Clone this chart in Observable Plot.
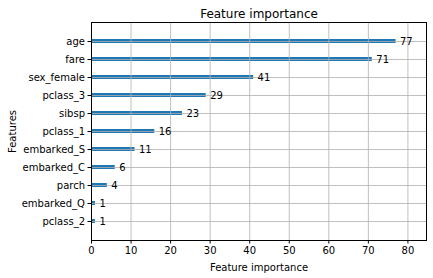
<!DOCTYPE html>
<html>
<head>
<meta charset="utf-8">
<script src="https://cdn.jsdelivr.net/npm/d3@7"></script>
<script src="https://cdn.jsdelivr.net/npm/@observablehq/plot@0.6"></script>
<style>
  html, body { margin: 0; padding: 0; background: white; }
</style>
</head>
<body>
<div id="chart"></div>
<script>
const features = ["age", "fare", "sex_female", "pclass_3", "sibsp", "pclass_1", "embarked_S", "embarked_C", "parch", "embarked_Q", "pclass_2"];
const importance = [77, 71, 41, 29, 23, 16, 11, 6, 4, 1, 1];
const xTicks = [0, 10, 20, 30, 40, 50, 60, 70, 80];
const titleText = "Feature importance";
const xLabel = "Feature importance";
const yLabel = "Features";

const data = features.map((f, i) => ({feature: f, value: importance[i]}));

const chart = Plot.plot({
  width: 433,
  height: 278,
  marginLeft: 91,
  marginRight: 7,
  marginTop: 22,
  marginBottom: 38,
  style: {fontFamily: "DejaVu Sans", fontSize: "10px", color: "black", background: "white"},
  x: {domain: [0, 84.7]},
  y: {type: "band", domain: features, paddingInner: 0.8, paddingOuter: 0.9},
  marks: [
    Plot.barX(data, {x: "value", y: "feature", fill: "#1f77b4"}),
    Plot.gridX(xTicks, {stroke: "#b0b0b0", strokeOpacity: 1, strokeWidth: 0.8}),
    Plot.gridY(features, {stroke: "#b0b0b0", strokeOpacity: 1, strokeWidth: 0.8}),
    Plot.frame({stroke: "black", strokeWidth: 1}),
    Plot.axisX(xTicks, {tickSize: 3.5, tickPadding: 3, label: xLabel, labelAnchor: "center", labelOffset: 30, labelArrow: "none", fontSize: 10}),
    Plot.axisY(features, {tickSize: 3.5, tickPadding: 3, label: yLabel, labelAnchor: "center", labelOffset: 83, labelArrow: "none", fontSize: 10}),
    Plot.text(data, {x: d => d.value + 1, y: "feature", text: d => String(d.value), textAnchor: "start", fill: "black", fontSize: 10}),
    Plot.text([titleText], {frameAnchor: "top", dy: -13, fontSize: 12, fill: "black"})
  ]
});
document.getElementById("chart").appendChild(chart);
</script>
</body>
</html>
